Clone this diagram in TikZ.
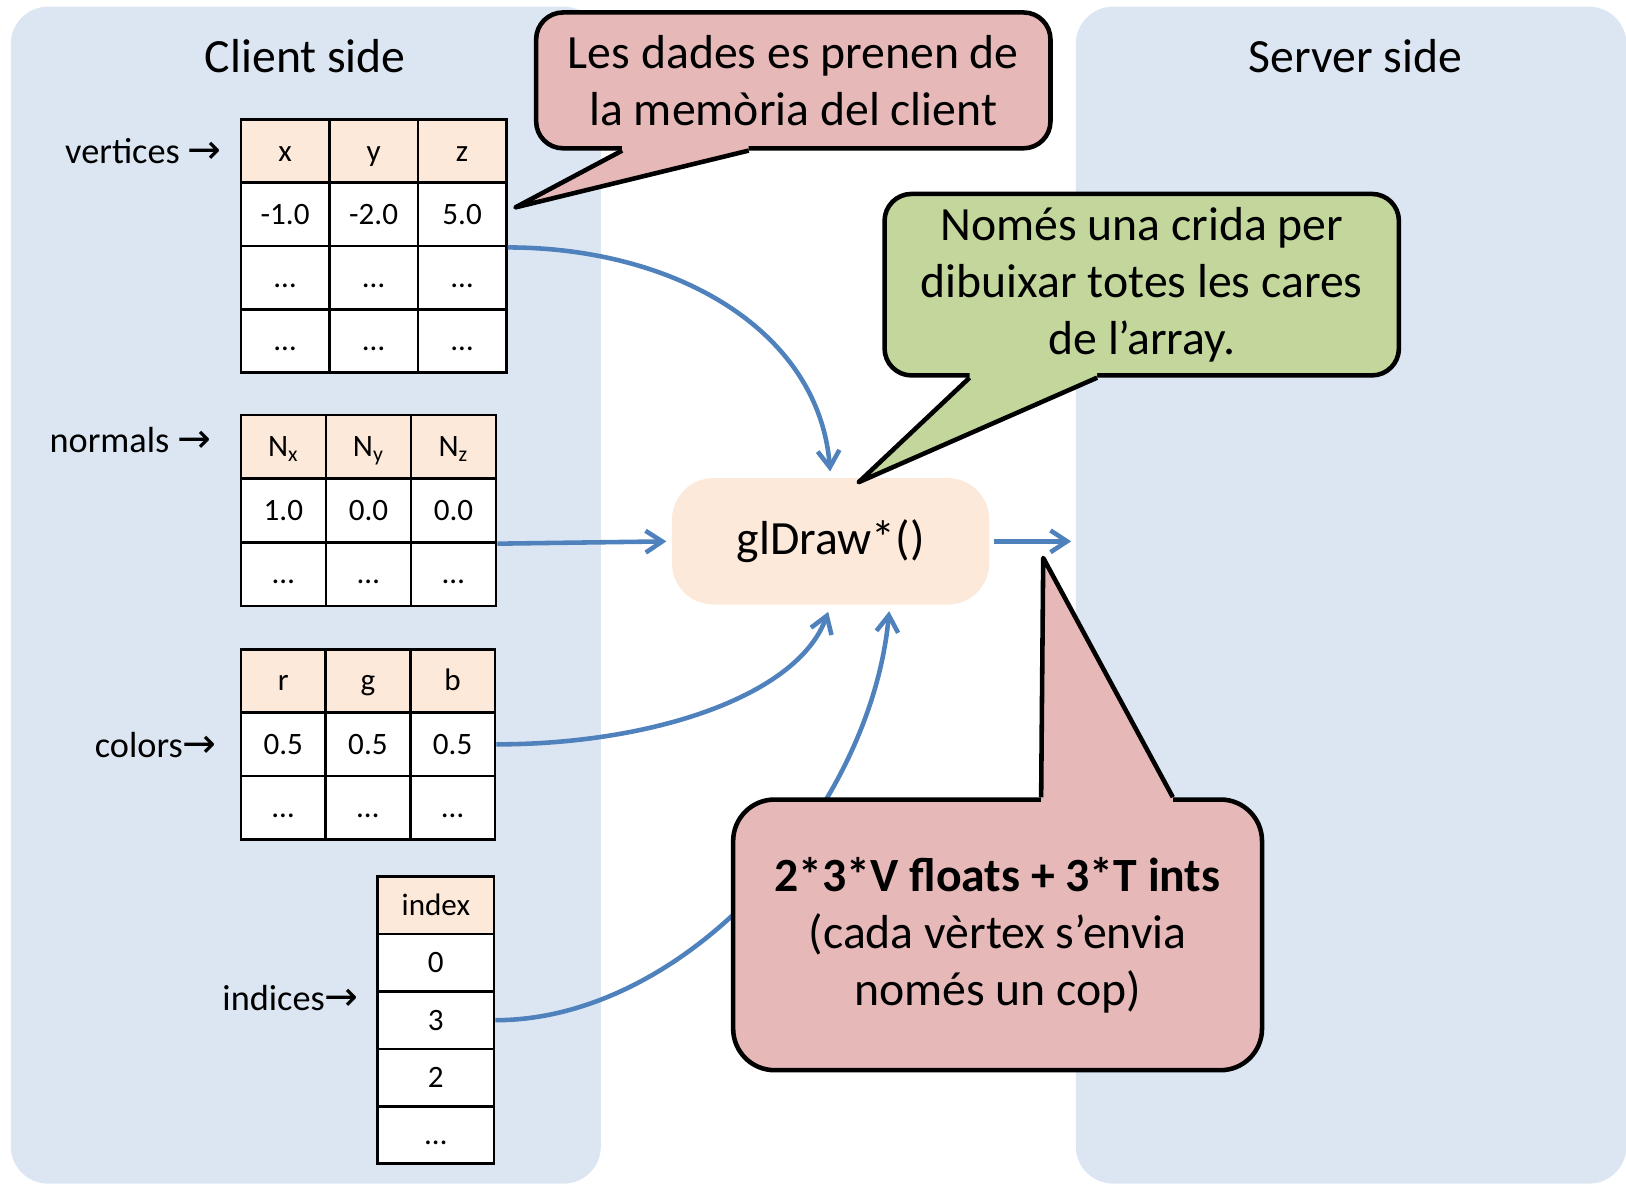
\documentclass[tikz,border=0pt]{standalone}
\usepackage{fontspec}
\setmainfont{Carlito}
\newfontfamily\arrowfont{DejaVu Sans}
\usetikzlibrary{arrows.meta,calc}
\definecolor{panelblue}{HTML}{DCE6F2}
\definecolor{peach}{HTML}{FDE9D9}
\definecolor{notepink}{HTML}{E6B9B8}
\definecolor{notegreen}{HTML}{C3D69B}
\definecolor{flowblue}{HTML}{4F81BD}
\newcommand{\rarr}{{\fontsize{19.5}{20}\arrowfont →}}

\begin{document}
\begin{tikzpicture}[x=0.5pt, y=-0.5pt,
  panel/.style={fill=panelblue, rounded corners=18pt, inner sep=0pt, anchor=north west},
  title/.style={font=\fontsize{23}{28}\selectfont},
  cell/.style={draw=black, line width=1.3pt, inner sep=0pt, anchor=north west, fill=white,
               text height=9.5pt, text depth=0pt, font=\fontsize{15}{18}\selectfont},
  hcell/.style={cell, fill=peach},
  vt/.style={minimum width=42.67pt, minimum height=30.5pt},
  nt/.style={minimum width=41pt, minimum height=30.67pt},
  ct/.style={minimum width=40.83pt, minimum height=30.5pt},
  it/.style={minimum width=56pt, minimum height=27.7pt},
  arrlabel/.style={anchor=east, font=\fontsize{17.5}{21}\selectfont},
  note/.style={draw=black, line width=2.2pt, align=center, inner sep=0pt,
               font=\fontsize{23}{27.5}\selectfont},
  pointer/.style={draw=black, line width=2.2pt, line join=round},
  flow/.style={draw=flowblue, line width=2.2pt, -{Straight Barb[length=8pt,width=10.5pt]}},
]
\useasboundingbox (0,0) rectangle (1568,1142);

% client and server areas
\node[panel, minimum width=284.5pt, minimum height=567.5pt] (client) at (10,6) {};
\node[panel, minimum width=265.5pt, minimum height=567.5pt] (server) at (1037,6) {};
\node[title] (clienttitle) at (294.5,54) {Client side};
\node[title] (servertitle) at (1307,54) {Server side};

% vertices array
\foreach \t [count=\c] in {x,y,z}
  \node[hcell, vt] (v-0-\c) at ({231+85.33*(\c-1)},114) {\t};
\foreach \t [count=\c] in {-1.0,-2.0,5.0}
  \node[cell, vt] (v-1-\c) at ({231+85.33*(\c-1)},175) {\t};
\foreach \r in {2,3}
  \foreach \c in {1,2,3}
    \node[cell, vt] (v-\r-\c) at ({231+85.33*(\c-1)},{114+61*\r}) {…};
\node[arrlabel] (vlabel) at (221,146) {vertices \rarr};

% normals array
\foreach \t [count=\c] in {N\textsubscript{x},N\textsubscript{y},N\textsubscript{z}}
  \node[hcell, nt] (n-0-\c) at ({231+82*(\c-1)},399) {\t};
\foreach \t [count=\c] in {1.0,0.0,0.0}
  \node[cell, nt] (n-1-\c) at ({231+82*(\c-1)},460.33) {\t};
\foreach \c in {1,2,3}
  \node[cell, nt] (n-2-\c) at ({231+82*(\c-1)},521.67) {…};
\node[arrlabel] (nlabel) at (211,424) {normals \rarr};

% colors array
\foreach \t [count=\c] in {r,g,b}
  \node[hcell, ct] (c-0-\c) at ({231+81.67*(\c-1)},625) {\t};
\foreach \t [count=\c] in {0.5,0.5,0.5}
  \node[cell, ct] (c-1-\c) at ({231+81.67*(\c-1)},686) {\t};
\foreach \c in {1,2,3}
  \node[cell, ct] (c-2-\c) at ({231+81.67*(\c-1)},747) {…};
\node[arrlabel] (clabel) at (216,718) {colors\rarr};

% indices array
\node[hcell, it] (i-0) at (363,844) {index};
\foreach \t [count=\r] in {0,3,2,…}
  \node[cell, it] (i-\r) at (363,{844+55.4*\r}) {\t};
\node[arrlabel] (ilabel) at (353,962) {indices\rarr};

% draw call
\node[fill=peach, rounded corners=20pt, minimum width=153pt, minimum height=61pt,
      font=\fontsize{23}{28}\selectfont] (gl) at (801,522) {glDraw*()};
\coordinate (srvin) at (1033,522);

% data flow
\draw[flow, shorten >=3pt] (v-1-3.south east) .. controls +(163,0) and +(-11,-141) .. (gl.north);
\draw[flow, shorten >=2.5pt] (n-1-3.south east) -- (gl.west);
\draw[flow, shorten >=3.5pt] (c-1-3.east) .. controls +(152,0) and +(-31,87) .. (gl.south);
\draw[flow, shorten >=3pt] (i-2.east) .. controls +(185,0) and +(-18,197) .. ($(gl.south)+(57,0)$);
\draw[flow, shorten <=2pt] (gl.east) -- (srvin);

% note: client memory
\node[note, fill=notepink, rounded corners=13pt, minimum width=248pt, minimum height=65.5pt]
  (c1) at (765,77.5) {Les dades es prenen de\\la memòria del client};
\coordinate (c1a) at ($(c1.south)+(-165,0)$);
\coordinate (c1b) at ($(c1.south)+(-43,0)$);
\coordinate (c1t) at (497,200);
\fill[notepink] (c1t) -- (c1a) -- ($(c1a)+(0,-6)$) -- ($(c1b)+(0,-6)$) -- (c1b) -- cycle;
\draw[pointer] (c1a) -- (c1t) -- (c1b);

% note: single call
\node[note, fill=notegreen, rounded corners=13pt, minimum width=248pt, minimum height=87.5pt]
  (c2) at (1101,274.5) {Només una crida per\\dibuixar totes les cares\\de l’array.};
\coordinate (c2a) at ($(c2.south)+(-166,0)$);
\coordinate (c2b) at ($(c2.south)+(-43,0)$);
\coordinate (c2t) at (828,465);
\fill[notegreen] (c2t) -- (c2a) -- ($(c2a)+(0,-6)$) -- ($(c2b)+(0,-6)$) -- (c2b) -- cycle;
\draw[pointer] (c2a) -- (c2t) -- (c2b);

% note: amount of data sent
\node[note, fill=notepink, rounded corners=20pt, minimum width=255pt, minimum height=130.5pt]
  (c3) at (962,901.5) {\textbf{2*3*V floats + 3*T ints}\\(cada vèrtex s’envia\\només un cop)};
\coordinate (c3a) at ($(c3.north)+(42,0)$);
\coordinate (c3b) at ($(c3.north)+(169,0)$);
\coordinate (c3t) at (1006,538);
\fill[notepink] (c3t) -- (c3a) -- ($(c3a)+(0,6)$) -- ($(c3b)+(0,6)$) -- (c3b) -- cycle;
\draw[pointer] (c3a) -- (c3t) -- (c3b);
\end{tikzpicture}
\end{document}
